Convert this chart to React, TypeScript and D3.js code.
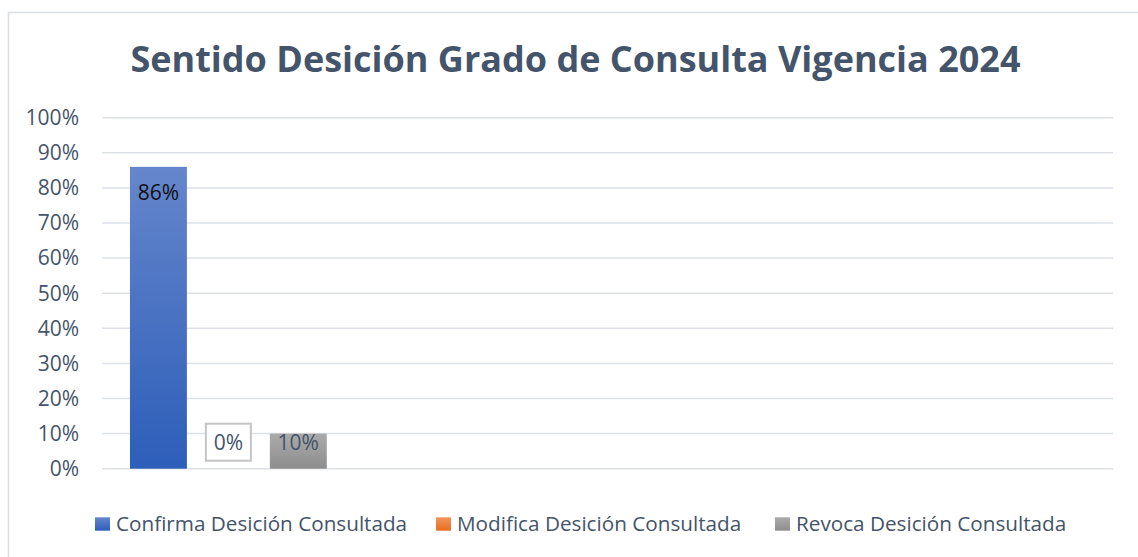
import { useMemo } from "react";
import * as d3 from "d3";

// chart data
const categories = ["c1", "c2", "c3", "c4"];
const seriesNames = [
  "Confirma Desición Consultada",
  "Modifica Desición Consultada",
  "Revoca Desición Consultada",
];
const confirmaValues = [0.86, null, null, null];
const modificaValues = [0, null, null, null];
const revocaValues = [0.1, null, null, null];
const yTicks = [0, 0.1, 0.2, 0.3, 0.4, 0.5, 0.6, 0.7, 0.8, 0.9, 1];

const W = 1138;
const H = 557;
const margin = { top: 117.7, right: 25, bottom: 88.3, left: 102 };
const FONT = "'Open Sans', sans-serif";
const TEXT = "#44546a";

const App = () => {
  const series = useMemo(
    () => [
      { name: seriesNames[0], values: confirmaValues, top: "#6586cc", bottom: "#2d5eb9", label: "#111111", box: false },
      { name: seriesNames[1], values: modificaValues, top: "#f4955a", bottom: "#e86e1f", label: TEXT, box: true },
      { name: seriesNames[2], values: revocaValues, top: "#aaaaaa", bottom: "#8e8e8e", label: TEXT, box: false },
    ],
    []
  );

  const innerW = W - margin.left - margin.right;
  const innerH = H - margin.top - margin.bottom;

  const x0 = d3.scaleBand().domain(categories).range([0, innerW]).padding(0);
  const x1 = d3
    .scaleBand()
    .domain(seriesNames)
    .range([0, x0.bandwidth()])
    .paddingInner(0.186)
    .paddingOuter(0.4);
  const y = d3.scaleLinear().domain([0, 1]).range([innerH, 0]);
  const fmt = d3.format(".0%");

  const legendX = [96, 437, 776];

  return (
    <svg
      width={W}
      height={H}
      style={{ position: "absolute", left: 0, top: 0, background: "#fff" }}
      fontFamily={FONT}
    >
      <defs>
        {series.map((s, i) => (
          <linearGradient key={s.name} id={`grad${i}`} x1="0" y1="0" x2="0" y2="1">
            <stop offset="0%" stopColor={s.top} />
            <stop offset="100%" stopColor={s.bottom} />
          </linearGradient>
        ))}
      </defs>
      <rect x={8.5} y={12.5} width={W + 10} height={H + 10} fill="#fff" stroke="#dadde2" strokeWidth={1.5} />

      <text x={575.5} y={72} textAnchor="middle" fontSize={36} fontWeight="bold" fill={TEXT}>
        Sentido Desición Grado de Consulta Vigencia 2024
      </text>

      <g transform={`translate(${margin.left},${margin.top})`}>
        {yTicks.map((t) => (
          <g key={t}>
            <line x1={0} x2={innerW} y1={y(t)} y2={y(t)} stroke="#dde1e6" strokeWidth={1.5} />
            <text x={-23} y={y(t)} dy="0.35em" textAnchor="end" fontSize={21} fill={TEXT}>
              {fmt(t)}
            </text>
          </g>
        ))}

        {categories.map((c, ci) => (
          <g key={c} transform={`translate(${x0(c)},0)`}>
            {series.map((s, si) => {
              const v = s.values[ci];
              if (v == null) return null;
              const bx = x1(s.name) ?? 0;
              const bw = x1.bandwidth();
              const cx = bx + bw / 2;
              const ly = Math.min(y(v) + 26, y(0) - 26);
              return (
                <g key={s.name}>
                  <rect x={bx} y={y(v)} width={bw} height={y(0) - y(v)} fill={`url(#grad${si})`} />
                  {s.box && (
                    <rect x={cx - 22.5} y={ly - 19} width={45} height={37} fill="#fff" stroke="#c4c4c4" strokeWidth={2} />
                  )}
                  <text x={cx} y={ly} dy="0.35em" textAnchor="middle" fontSize={21} fill={s.label}>
                    {fmt(v)}
                  </text>
                </g>
              );
            })}
          </g>
        ))}
      </g>

      <g transform="translate(0,524)">
        {series.map((s, i) => (
          <g key={s.name} transform={`translate(${legendX[i]},0)`}>
            <rect x={-1} y={-6.7} width={15} height={13.4} fill={`url(#grad${i})`} />
            <text x={20} y={0} dy="0.35em" fontSize={20.7} fill={TEXT}>
              {s.name}
            </text>
          </g>
        ))}
      </g>
    </svg>
  );
};

export default App;
